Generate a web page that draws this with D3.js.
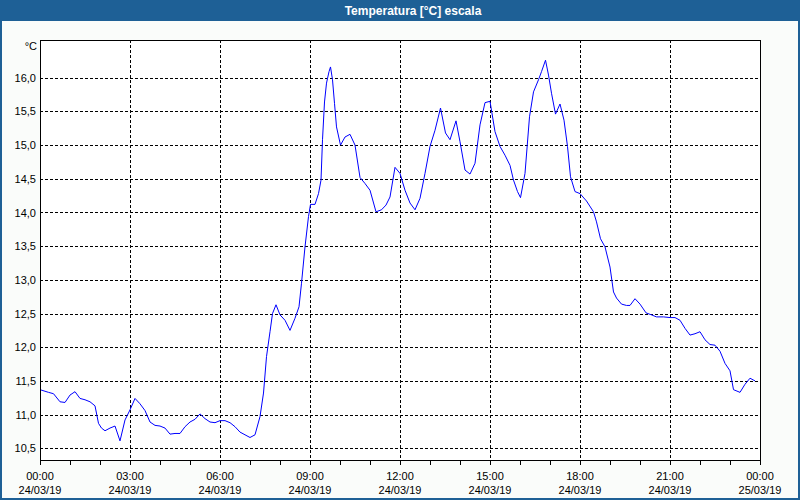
<!DOCTYPE html>
<html><head><meta charset="utf-8">
<script src="https://cdn.jsdelivr.net/npm/d3@7"></script>
<style>
html,body{margin:0;padding:0;background:#fafcfa;}
svg{display:block;}
text{font-family:"Liberation Sans",Arial,sans-serif;}
</style></head>
<body>
<svg id="chart" width="800" height="500"></svg>
<script>
// ---- data ----
const chartTitle = "Temperatura [°C] escala";
const unitLabel = "°C";
// minutes since 24/03/19 00:00
const minutes = [0,17,27,40,50,60,70,80,90,100,110,117,123,130,140,150,160,170,180,190,200,210,220,230,240,250,260,270,280,290,300,310,320,330,340,350,360,370,380,390,400,410,420,430,440,447,453,460,465,472,480,490,500,510,518,523,530,537,541,550,557,562,565,569,573,578,581,585,589,593,601,610,620,630,640,650,660,672,683,692,700,710,720,730,740,750,760,770,780,790,801,811,820,832,840,850,860,870,880,890,900,910,920,930,940,947,955,961,970,979,987,997,1003,1011,1017,1023,1031,1040,1048,1055,1061,1070,1080,1093,1107,1113,1121,1130,1140,1147,1153,1163,1173,1180,1190,1200,1212,1223,1233,1247,1260,1270,1280,1290,1300,1310,1320,1330,1340,1350,1360,1370,1380,1387,1400,1410,1420,1430];
const temps = [11.37,11.33,11.31,11.19,11.18,11.29,11.34,11.24,11.22,11.19,11.13,10.87,10.80,10.76,10.80,10.83,10.61,10.92,11.07,11.24,11.16,11.06,10.89,10.84,10.83,10.80,10.71,10.72,10.72,10.82,10.89,10.93,11.01,10.94,10.89,10.88,10.91,10.91,10.88,10.82,10.74,10.70,10.66,10.70,10.97,11.32,11.86,12.23,12.50,12.63,12.48,12.40,12.25,12.43,12.60,12.95,13.49,13.94,14.12,14.12,14.28,14.48,15.08,15.64,15.92,16.09,16.16,15.97,15.62,15.27,15.00,15.12,15.16,15.00,14.52,14.43,14.33,14.01,14.04,14.11,14.23,14.67,14.58,14.33,14.14,14.04,14.21,14.58,14.98,15.22,15.55,15.18,15.08,15.36,15.05,14.63,14.57,14.73,15.30,15.63,15.65,15.20,14.98,14.85,14.70,14.48,14.31,14.22,14.58,15.42,15.79,15.97,16.09,16.26,16.04,15.77,15.46,15.61,15.37,14.98,14.53,14.31,14.28,14.17,14.01,13.86,13.61,13.49,13.19,12.82,12.73,12.64,12.62,12.62,12.72,12.64,12.51,12.48,12.45,12.45,12.44,12.44,12.40,12.28,12.18,12.20,12.23,12.11,12.04,12.03,11.94,11.76,11.65,11.37,11.33,11.45,11.54,11.50];
const yTicks = [10.5,11.0,11.5,12.0,12.5,13.0,13.5,14.0,14.5,15.0,15.5,16.0];
const xTickHours = [0,3,6,9,12,15,18,21,24];
const xTimeLabels = ["00:00","03:00","06:00","09:00","12:00","15:00","18:00","21:00","00:00"];
const xDateLabels = ["24/03/19","24/03/19","24/03/19","24/03/19","24/03/19","24/03/19","24/03/19","24/03/19","25/03/19"];
const yDomain = [10.326, 16.56];

// ---- layout ----
const W = 800, H = 500;
const plot = {left:40, right:760, top:40, bottom:460};
const svg = d3.select("#chart");

// window frame
svg.append("rect").attr("x",0).attr("y",0).attr("width",W).attr("height",H).attr("fill","#fafcfa");
svg.append("rect").attr("x",0).attr("y",0).attr("width",W).attr("height",21).attr("fill","#1e6096");
svg.append("rect").attr("x",1).attr("y",1).attr("width",W-2).attr("height",H-2)
   .attr("fill","none").attr("stroke","#1e6096").attr("stroke-width",2);
svg.append("text").attr("x",413).attr("y",15).attr("text-anchor","middle")
   .attr("fill","#ffffff").attr("font-size","12px").attr("font-weight","bold").text(chartTitle);

const x = d3.scaleLinear().domain([0,24*60]).range([plot.left, plot.right]);
const y = d3.scaleLinear().domain(yDomain).range([plot.bottom, plot.top]);

// plot background
svg.append("rect").attr("x",plot.left).attr("y",plot.top).attr("width",plot.right-plot.left)
   .attr("height",plot.bottom-plot.top).attr("fill","#ffffff");

// grid
const grid = svg.append("g").attr("stroke","#000").attr("stroke-width",1).attr("stroke-dasharray","3,2").attr("shape-rendering","crispEdges");
grid.selectAll("line.h").data(yTicks).enter().append("line")
   .attr("x1",plot.left).attr("x2",plot.right)
   .attr("y1",d=>Math.round(y(d))+0.5).attr("y2",d=>Math.round(y(d))+0.5);
grid.selectAll("line.v").data(xTickHours.slice(1,-1)).enter().append("line")
   .attr("y1",plot.top).attr("y2",plot.bottom)
   .attr("x1",d=>Math.round(x(d*60))+0.5).attr("x2",d=>Math.round(x(d*60))+0.5);

// line
const line = d3.line().x((d,i)=>x(minutes[i])).y(d=>y(d));
svg.append("path").datum(temps).attr("d",line).attr("fill","none")
   .attr("stroke","#0000ff").attr("stroke-width",1);

// frame
svg.append("rect").attr("x",plot.left+0.5).attr("y",plot.top+0.5)
   .attr("width",plot.right-plot.left).attr("height",plot.bottom-plot.top)
   .attr("fill","none").attr("stroke","#000").attr("stroke-width",1).attr("shape-rendering","crispEdges");

// y axis labels
const yAxis = d3.axisLeft(y).tickValues(yTicks).tickSize(0).tickPadding(4)
   .tickFormat(d=>d3.format(".1f")(d).replace(".",","));
const gy = svg.append("g").attr("transform",`translate(${plot.left},0)`).call(yAxis);
gy.select(".domain").remove();
gy.selectAll("text").attr("font-size","11px").attr("fill","#000").attr("font-family","Liberation Sans, Arial, sans-serif");
svg.append("text").attr("x",37).attr("y",50).attr("text-anchor","end").attr("font-size","11px").attr("fill","#000").text(unitLabel);

// x axis: hourly ticks
const hours = d3.range(0,25);
const xAxis = d3.axisBottom(x).tickValues(hours.map(h=>h*60)).tickSize(5).tickFormat("");
const gx = svg.append("g").attr("transform",`translate(0,${plot.bottom})`).call(xAxis);
gx.select(".domain").remove();
gx.selectAll(".tick line").attr("stroke","#000").attr("shape-rendering","crispEdges");
const lbl = svg.append("g").attr("font-size","11px").attr("fill","#000").attr("text-anchor","middle");
lbl.selectAll("text.t").data(xTickHours).enter().append("text")
   .attr("x",d=>x(d*60)).attr("y",480).text((d,i)=>xTimeLabels[i]);
lbl.selectAll("text.d").data(xTickHours).enter().append("text")
   .attr("x",d=>x(d*60)).attr("y",494).text((d,i)=>xDateLabels[i]);
</script>
</body></html>
